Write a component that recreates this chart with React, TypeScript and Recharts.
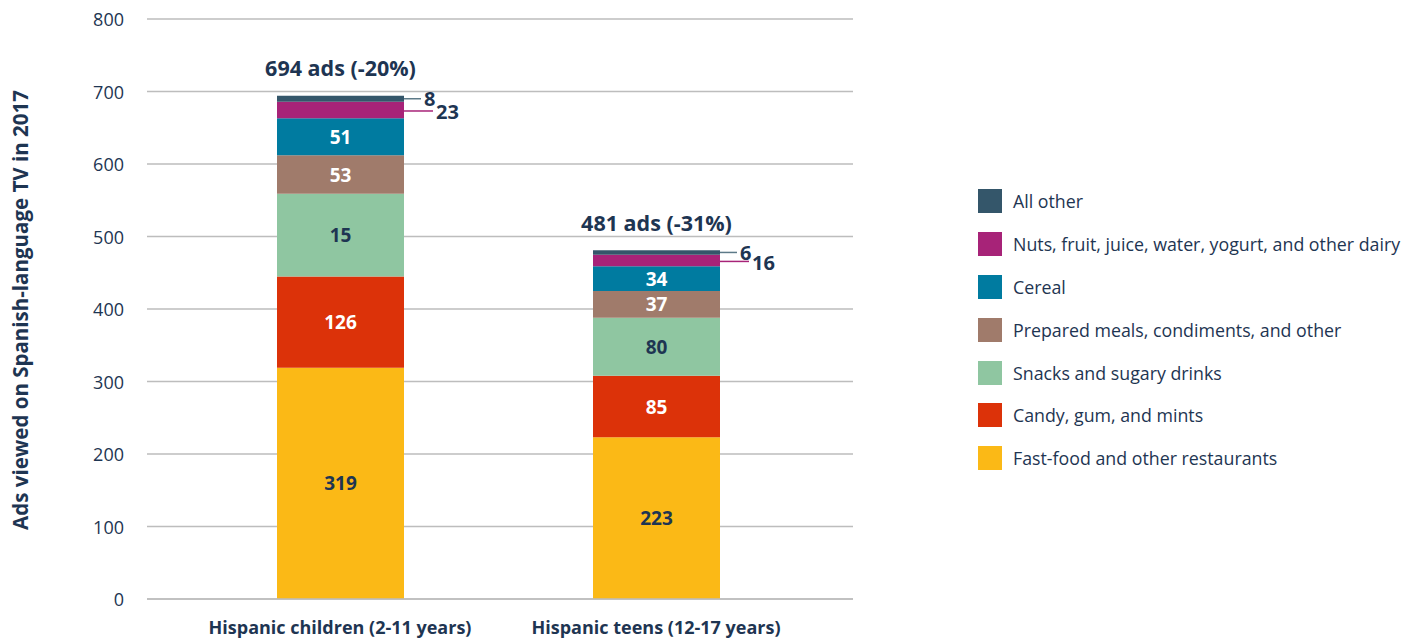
import React from "react";
import { BarChart, Bar, XAxis, YAxis, CartesianGrid, LabelList } from "recharts";

// Ad categories (stack order, bottom to top)
const categories = ["Hispanic children (2-11 years)", "Hispanic teens (12-17 years)"];
const fastFood = [319, 223];
const candy = [126, 85];
const snacks = [114, 80];
const prepared = [53, 37];
const cereal = [51, 34];
const nuts = [23, 16];
const allOther = [8, 6];

// Printed segment labels
const fastFoodLabels = ["319", "223"];
const candyLabels = ["126", "85"];
const snacksLabels = ["15", "80"];
const preparedLabels = ["53", "37"];
const cerealLabels = ["51", "34"];
const nutsLabels = ["23", "16"];
const allOtherLabels = ["8", "6"];

// Totals above each bar
const totals = [694, 481];
const changes = ["-20%", "-31%"];

const yTicks = [0, 100, 200, 300, 400, 500, 600, 700, 800];

const FONT = "'Open Sans', sans-serif";
const DARK = "#1e3552";

const series = [
  { key: "fastFood", name: "Fast-food and other restaurants", color: "#fbb916", labels: fastFoodLabels, text: DARK },
  { key: "candy", name: "Candy, gum, and mints", color: "#dc3209", labels: candyLabels, text: "#ffffff" },
  { key: "snacks", name: "Snacks and sugary drinks", color: "#8fc6a1", labels: snacksLabels, text: DARK },
  { key: "prepared", name: "Prepared meals, condiments, and other", color: "#a07b6b", labels: preparedLabels, text: "#ffffff" },
  { key: "cereal", name: "Cereal", color: "#007ba0", labels: cerealLabels, text: "#ffffff" },
  { key: "nuts", name: "Nuts, fruit, juice, water, yogurt, and other dairy", color: "#a72378", labels: nutsLabels, text: DARK },
  { key: "allOther", name: "All other", color: "#34566a", labels: allOtherLabels, text: DARK },
];

const data = categories.map((c, i) => ({
  category: c,
  fastFood: fastFood[i],
  candy: candy[i],
  snacks: snacks[i],
  prepared: prepared[i],
  cereal: cereal[i],
  nuts: nuts[i],
  allOther: allOther[i],
}));

const makeInsideLabel = (labels: string[], color: string) => (props: any) => {
  const { x, y, width, height, index } = props;
  return (
    <text
      x={x + width / 2}
      y={y + height / 2}
      textAnchor="middle"
      dominantBaseline="central"
      fill={color}
      fontFamily={FONT}
      fontWeight={700}
      fontSize={19}
    >
      {labels[index]}
    </text>
  );
};

// Thin top segments: value printed to the right with a leader line
const makeLeaderLabel = (labels: string[], lineColor: string, lineLen: number, lineDy: number, textDy: number) =>
  (props: any) => {
    const { x, y, width, height, index } = props;
    const ly = y + height / 2 + lineDy;
    const x0 = x + width;
    return (
      <g>
        <line x1={x0} y1={ly} x2={x0 + lineLen} y2={ly} stroke={lineColor} strokeWidth={1.5} />
        <text
          x={x0 + lineLen + 3}
          y={ly + textDy}
          textAnchor="start"
          dominantBaseline="central"
          fill={DARK}
          fontFamily={FONT}
          fontWeight={700}
          fontSize={20}
        >
          {labels[index]}
        </text>
      </g>
    );
  };

const TotalLabel = (props: any) => {
  const { x, y, width, index } = props;
  return (
    <text
      x={x + width / 2}
      y={y - 28}
      textAnchor="middle"
      dominantBaseline="central"
      fill={DARK}
      fontFamily={FONT}
      fontWeight={700}
      fontSize={21.5}
    >
      {`${totals[index]} ads (${changes[index]})`}
    </text>
  );
};

const YTick = (props: any) => {
  const { x, y, payload } = props;
  return (
    <text x={x} y={y} textAnchor="end" dominantBaseline="central" fill={DARK} fontFamily={FONT} fontSize={18}>
      {payload.value}
    </text>
  );
};

const XTick = (props: any) => {
  const { x, y, payload } = props;
  return (
    <text x={x} y={y + 35} textAnchor="middle" fill={DARK} fontFamily={FONT} fontWeight={700} fontSize={18}>
      {payload.value}
    </text>
  );
};

const legendItems = [...series].reverse();

export default function App() {
  return (
    <div style={{ position: "absolute", left: 0, top: 0, width: 1411, height: 638, background: "#fff", fontFamily: FONT }}>
      <BarChart
        width={1411}
        height={638}
        data={data}
        margin={{ top: 19, right: 558, bottom: 0, left: 0 }}
        barCategoryGap={0}
      >
        <CartesianGrid horizontal vertical={false} stroke="#bdbdbd" strokeWidth={1.3} />
        <XAxis
          dataKey="category"
          height={39}
          tickSize={0}
          tickMargin={0}
          axisLine={{ stroke: "#bdbdbd", strokeWidth: 1.3 }}
          tick={<XTick />}
          padding={{ left: 35, right: 39 }}
          interval={0}
        />
        <YAxis
          width={147}
          domain={[0, 800]}
          ticks={yTicks}
          axisLine={false}
          tickSize={0}
          tickMargin={23}
          tick={<YTick />}
          interval={0}
        />
        {series.map((s) => {
          let content: any;
          if (s.key === "allOther") content = makeLeaderLabel(s.labels, "#5d7a88", 17, 0, 0);
          else if (s.key === "nuts") content = makeLeaderLabel(s.labels, "#a72378", 29, 1, 1);
          else content = makeInsideLabel(s.labels, s.text);
          return (
            <Bar key={s.key} dataKey={s.key} name={s.name} stackId="a" fill={s.color} barSize={127} isAnimationActive={false}>
              <LabelList dataKey={s.key} content={content} />
              {s.key === "allOther" ? <LabelList dataKey={s.key} content={TotalLabel} /> : null}
            </Bar>
          );
        })}
      </BarChart>

      <div
        style={{
          position: "absolute",
          left: 20,
          top: 310,
          transform: "translate(-50%, -50%) rotate(-90deg)",
          whiteSpace: "nowrap",
          color: DARK,
          fontWeight: 700,
          fontSize: 20.5,
        }}
      >
        Ads viewed on Spanish-language TV in 2017
      </div>

      <div style={{ position: "absolute", left: 978, top: 180 }}>
        {legendItems.map((s) => (
          <div key={s.key} style={{ display: "flex", alignItems: "center", height: 42.8 }}>
            <div style={{ width: 24, height: 24, background: s.color, marginRight: 11, flex: "none" }} />
            <span style={{ color: DARK, fontSize: 17.8, whiteSpace: "nowrap", lineHeight: "24px" }}>{s.name}</span>
          </div>
        ))}
      </div>
    </div>
  );
}
